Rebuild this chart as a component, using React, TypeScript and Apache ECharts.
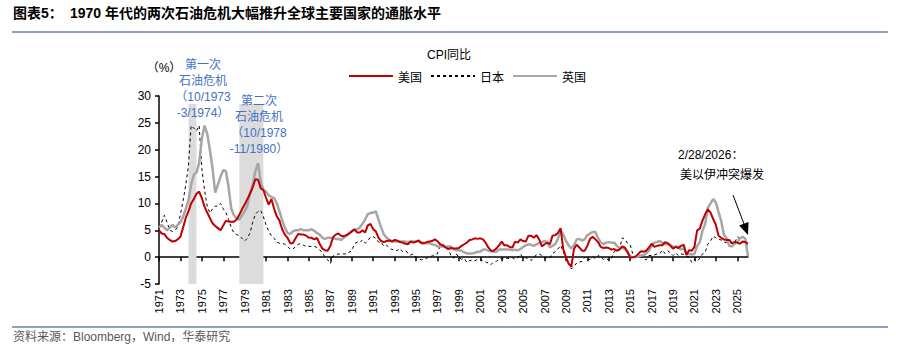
import React, { useEffect, useRef } from "react";
import * as echarts from "echarts";

// Quarterly categories 1971Q1 .. 2026Q1
const START_YEAR = 1971;
const END_YEAR = 2025;
const categories: string[] = [];
for (let y = START_YEAR; y <= END_YEAR; y++) {
  for (let q = 1; q <= 4; q++) categories.push(`${y}Q${q}`);
}
categories.push("2026Q1");

// CPI YoY (%), quarterly
const usCPI = [
  5.0, 4.4, 4.3, 3.6, // 1971
  3.2, 2.9, 3.0, 3.3, // 1972
  3.8, 5.5, 7.3, 8.5, // 1973
  10.0, 10.8, 11.8, 12.2, // 1974
  11.0, 9.4, 8.3, 7.3, // 1975
  6.3, 5.8, 5.4, 5.0, // 1976
  5.9, 6.8, 6.6, 6.6, // 1977
  6.6, 7.0, 7.9, 8.9, // 1978
  9.8, 10.8, 11.8, 13.0, // 1979
  14.5, 14.4, 12.8, 12.5, // 1980
  11.0, 9.8, 10.8, 9.0, // 1981
  7.6, 6.8, 5.2, 4.2, // 1982
  3.6, 2.6, 2.6, 3.5, // 1983
  4.3, 4.2, 4.2, 4.0, // 1984
  3.6, 3.6, 3.3, 3.6, // 1985
  2.5, 1.6, 1.3, 1.2, // 1986
  2.1, 3.7, 4.2, 4.4, // 1987
  4.0, 3.9, 4.1, 4.4, // 1988
  4.8, 5.2, 4.6, 4.6, // 1989
  5.0, 4.6, 5.9, 6.2, // 1990
  5.2, 4.8, 3.6, 3.0, // 1991
  2.8, 3.0, 3.1, 2.9, // 1992
  3.2, 3.1, 2.8, 2.7, // 1993
  2.5, 2.4, 2.9, 2.7, // 1994
  2.9, 3.1, 2.6, 2.6, // 1995
  2.8, 2.9, 3.0, 3.3, // 1996
  3.0, 2.4, 2.2, 1.8, // 1997
  1.5, 1.7, 1.6, 1.6, // 1998
  1.7, 2.1, 2.4, 2.7, // 1999
  3.2, 3.3, 3.5, 3.4, // 2000
  3.5, 3.3, 2.7, 1.8, // 2001
  1.2, 1.2, 1.6, 2.2, // 2002
  2.9, 2.2, 2.2, 1.9, // 2003
  1.8, 2.9, 2.7, 3.3, // 2004
  3.0, 2.9, 4.0, 4.0, // 2005
  3.6, 4.1, 3.3, 2.0, // 2006
  2.4, 2.7, 2.4, 4.0, // 2007
  4.1, 4.5, 5.4, 1.5, // 2008
  0.0, -1.2, -1.8, 1.5, // 2009
  2.3, 1.8, 1.2, 1.2, // 2010
  2.1, 3.4, 3.8, 3.3, // 2011
  2.8, 1.9, 1.7, 1.8, // 2012
  1.7, 1.4, 1.5, 1.2, // 2013
  1.4, 2.0, 1.8, 1.0, // 2014
  -0.1, 0.0, 0.1, 0.6, // 2015
  1.1, 1.0, 1.2, 1.8, // 2016
  2.5, 1.9, 2.1, 2.2, // 2017
  2.2, 2.8, 2.6, 2.1, // 2018
  1.6, 1.9, 1.7, 2.1, // 2019
  2.3, 0.4, 1.3, 1.2, // 2020
  1.9, 5.0, 5.3, 6.8, // 2021
  8.0, 8.9, 8.3, 7.1, // 2022
  6.0, 4.0, 3.6, 3.3, // 2023
  3.2, 3.2, 2.6, 2.8, // 2024
  2.7, 2.5, 2.9, 2.8, // 2025
  2.5, // 2026
];

const jpCPI = [
  5.5, 6.5, 7.8, 6.5, // 1971
  5.0, 4.8, 5.0, 5.6, // 1972
  8.0, 10.5, 13.5, 17.0, // 1973
  24.5, 24.0, 23.5, 24.5, // 1974
  16.5, 12.5, 9.5, 8.2, // 1975
  9.0, 9.5, 9.5, 10.0, // 1976
  9.0, 8.3, 7.0, 5.5, // 1977
  4.5, 4.2, 4.0, 3.5, // 1978
  3.0, 3.5, 4.5, 6.5, // 1979
  8.0, 8.5, 8.7, 7.5, // 1980
  6.0, 4.8, 4.0, 3.5, // 1981
  2.8, 2.6, 2.6, 2.4, // 1982
  2.0, 1.5, 1.5, 2.0, // 1983
  2.4, 2.5, 2.2, 2.0, // 1984
  2.0, 2.0, 2.0, 1.8, // 1985
  1.4, 0.8, 0.0, -0.5, // 1986
  -1.2, 0.2, 0.4, 0.6, // 1987
  0.6, 0.6, 0.6, 0.9, // 1988
  1.2, 2.5, 2.8, 2.7, // 1989
  3.2, 2.6, 3.0, 3.8, // 1990
  3.8, 3.5, 2.8, 2.8, // 1991
  2.0, 2.2, 1.8, 1.4, // 1992
  1.4, 1.2, 1.6, 1.0, // 1993
  1.2, 0.8, 0.4, 0.6, // 1994
  0.0, -0.3, -0.5, -0.4, // 1995
  -0.2, 0.1, 0.2, 0.5, // 1996
  0.6, 2.2, 2.3, 2.1, // 1997
  1.8, 0.3, -0.2, 0.6, // 1998
  0.0, -0.4, -0.2, -1.0, // 1999
  -0.6, -0.7, -0.7, -0.4, // 2000
  -0.4, -0.7, -0.9, -1.1, // 2001
  -1.4, -0.9, -0.8, -0.4, // 2002
  -0.2, -0.4, -0.2, -0.3, // 2003
  -0.1, -0.4, -0.1, 0.6, // 2004
  -0.2, -0.1, -0.3, -0.6, // 2005
  -0.2, 0.5, 0.6, 0.3, // 2006
  -0.1, -0.1, -0.2, 0.7, // 2007
  1.0, 1.5, 2.2, 1.0, // 2008
  -0.1, -1.1, -2.2, -1.7, // 2009
  -1.1, -0.9, -0.8, 0.0, // 2010
  -0.5, -0.4, 0.1, -0.3, // 2011
  0.3, 0.1, -0.4, -0.2, // 2012
  -0.6, -0.3, 1.0, 1.4, // 2013
  1.5, 3.6, 3.3, 2.6, // 2014
  2.3, 0.5, 0.1, 0.3, // 2015
  0.1, -0.4, -0.5, 0.3, // 2016
  0.3, 0.4, 0.6, 0.6, // 2017
  1.3, 0.7, 1.2, 0.8, // 2018
  0.3, 0.8, 0.3, 0.6, // 2019
  0.5, 0.1, 0.0, -1.0, // 2020
  -0.4, -0.8, -0.2, 0.6, // 2021
  0.9, 2.4, 3.0, 3.9, // 2022
  3.6, 3.3, 3.2, 2.8, // 2023
  2.7, 2.8, 2.5, 2.6, // 2024
  3.8, 3.4, 2.8, 2.9, // 2025
  1.8, // 2026
];

const ukCPI = [
  5.5, 6.0, 5.5, 5.0, // 1971
  5.5, 6.0, 5.5, 6.0, // 1972
  6.5, 7.5, 9.0, 10.5, // 1973
  13.5, 15.3, 15.8, 17.5, // 1974
  22.0, 24.5, 23.0, 20.0, // 1975
  16.5, 12.0, 13.5, 15.0, // 1976
  16.2, 16.0, 13.0, 9.0, // 1977
  7.8, 7.2, 7.0, 7.8, // 1978
  8.5, 9.5, 12.0, 13.5, // 1979
  16.0, 17.5, 14.0, 12.5, // 1980
  12.2, 11.5, 11.2, 11.0, // 1981
  10.0, 8.5, 6.9, 5.5, // 1982
  4.5, 4.3, 4.8, 5.0, // 1983
  5.0, 5.2, 5.0, 5.0, // 1984
  5.0, 5.2, 4.9, 4.5, // 1985
  4.2, 3.6, 3.4, 3.6, // 1986
  3.6, 3.5, 3.4, 3.4, // 1987
  3.2, 3.6, 4.0, 4.4, // 1988
  4.8, 5.0, 5.2, 5.5, // 1989
  6.2, 7.0, 8.0, 8.2, // 1990
  8.3, 8.5, 7.0, 5.5, // 1991
  4.2, 3.6, 3.2, 3.0, // 1992
  2.9, 2.9, 2.9, 2.9, // 1993
  2.9, 2.8, 2.9, 2.9, // 1994
  2.9, 2.9, 2.8, 2.6, // 1995
  2.6, 2.6, 2.4, 2.3, // 1996
  2.0, 2.0, 2.0, 2.0, // 1997
  2.0, 2.0, 1.5, 1.3, // 1998
  1.3, 1.2, 0.9, 0.7, // 1999
  0.7, 0.7, 0.8, 1.0, // 2000
  1.0, 1.4, 1.4, 1.2, // 2001
  1.1, 1.0, 1.0, 1.4, // 2002
  1.4, 1.4, 1.4, 1.4, // 2003
  1.3, 1.4, 1.3, 1.5, // 2004
  1.9, 2.2, 2.4, 2.3, // 2005
  2.1, 2.4, 2.6, 2.8, // 2006
  3.0, 2.8, 1.8, 2.1, // 2007
  2.4, 3.4, 5.0, 4.2, // 2008
  3.0, 2.2, 1.6, 2.2, // 2009
  3.3, 3.4, 3.1, 3.3, // 2010
  4.1, 4.4, 4.7, 4.7, // 2011
  3.5, 2.8, 2.4, 2.7, // 2012
  2.8, 2.7, 2.7, 2.1, // 2013
  1.7, 1.7, 1.5, 0.9, // 2014
  0.1, 0.0, 0.0, 0.1, // 2015
  0.3, 0.4, 0.7, 1.2, // 2016
  2.1, 2.7, 2.8, 3.0, // 2017
  2.7, 2.4, 2.5, 2.3, // 2018
  1.9, 2.0, 1.8, 1.4, // 2019
  1.7, 0.6, 0.6, 0.5, // 2020
  0.6, 2.1, 2.8, 4.9, // 2021
  6.2, 9.2, 10.0, 10.8, // 2022
  10.2, 8.4, 6.7, 4.2, // 2023
  3.5, 2.1, 2.0, 2.5, // 2024
  2.8, 3.5, 3.8, 3.4, // 2025
  0.2, // 2026
];

const seriesNames = ["美国", "日本", "英国"];
const yTicks = { min: -5, max: 30, interval: 5 };
const crisisPeriods = [
  ["1973Q4", "1974Q3"],
  ["1978Q3", "1980Q4"],
];
const crisisTop = 28.5;

const SANS = "'Liberation Sans', Arial, 'Noto Sans CJK SC', sans-serif";
const CJK = "'Noto Sans CJK SC', 'Liberation Sans', sans-serif";
const BLUE = "#4472C4";
const RULE = "#8EA0BC";

export default function App() {
  const ref = useRef<HTMLDivElement>(null);
  useEffect(() => {
    if (!ref.current) return;
    const chart = echarts.init(ref.current, undefined, { renderer: "svg" });
    const showIdx = (i: number) => i % 8 === 0;
    const option: any = {
      animation: false,
      backgroundColor: "#fff",
      grid: { left: 159, right: 151, top: 96, bottom: 74, containLabel: false },
      legend: {
        data: seriesNames,
        left: 343,
        top: 65,
        itemWidth: 44,
        itemHeight: 12,
        itemGap: 8,
        itemStyle: { color: "rgba(0,0,0,0)", borderColor: "rgba(0,0,0,0)", borderWidth: 0 },
        textStyle: { fontFamily: CJK, fontSize: 12, color: "#000" },
      },
      xAxis: {
        type: "category",
        data: categories,
        boundaryGap: false,
        axisLine: { lineStyle: { color: "#000", width: 1.5 } },
        axisTick: { interval: (i: number) => showIdx(i), length: 4, lineStyle: { color: "#000", width: 1.5 } },
        axisLabel: {
          interval: (i: number) => showIdx(i),
          rotate: 90,
          margin: 5,
          fontFamily: SANS,
          fontSize: 11,
          color: "#000",
          formatter: (v: string) => v.slice(0, 4),
        },
        splitLine: { show: false },
      },
      yAxis: {
        type: "value",
        min: yTicks.min,
        max: yTicks.max,
        interval: yTicks.interval,
        axisLine: { show: true, lineStyle: { color: "#000", width: 1.5 } },
        axisTick: { show: true, length: 4, lineStyle: { color: "#000", width: 1.5 } },
        axisLabel: { fontFamily: SANS, fontSize: 12, color: "#000", margin: 8 },
        splitLine: { show: false },
      },
      series: [
        {
          name: "bands",
          type: "line",
          data: [],
          z: 1,
          silent: true,
          markArea: {
            silent: true,
            itemStyle: { color: "#DCDCDC" },
            data: crisisPeriods.map(([a, b]) => [
              { xAxis: a, yAxis: yTicks.min },
              { xAxis: b, yAxis: crisisTop },
            ]),
          },
        },
        {
          name: "美国",
          type: "line",
          data: usCPI,
          symbol: "none",
          z: 4,
          lineStyle: { color: "#C00000", width: 2 },
          itemStyle: { color: "#C00000" },
        },
        {
          name: "日本",
          type: "line",
          data: jpCPI,
          symbol: "none",
          z: 3,
          lineStyle: { color: "#000", width: 1, type: [3, 3] },
          itemStyle: { color: "#000" },
        },
        {
          name: "英国",
          type: "line",
          data: ukCPI,
          symbol: "none",
          z: 3,
          lineStyle: { color: "#A6A6A6", width: 2.5 },
          itemStyle: { color: "#A6A6A6" },
        },
      ],
      graphic: [
        { type: "text", z: 100, left: 13, top: 6, style: { text: "图表5：", font: `bold 14px ${SANS}`, fill: "#000" } },
        {
          type: "text",
          z: 100,
          left: 70,
          top: 6,
          style: { text: "1970 年代的两次石油危机大幅推升全球主要国家的通胀水平", font: `bold 14px ${SANS}`, fill: "#000" },
        },
        { type: "line", z: 100, shape: { x1: 12, y1: 32, x2: 888, y2: 32 }, style: { stroke: RULE, lineWidth: 2 } },
        { type: "line", z: 100, shape: { x1: 12, y1: 327, x2: 888, y2: 327 }, style: { stroke: RULE, lineWidth: 2 } },
        {
          type: "text",
          z: 100,
          left: 13,
          top: 331,
          style: { text: "资料来源：Bloomberg，Wind，华泰研究", font: `12px ${SANS}`, fill: "#595959" },
        },
        {
          type: "text",
          z: 100,
          x: 449,
          y: 55,
          style: { text: "CPI同比", font: `12px ${SANS}`, fill: "#000", align: "center", verticalAlign: "middle" },
        },
        {
          type: "text",
          z: 100,
          x: 164,
          y: 68,
          style: { text: "（%）", font: `12px ${SANS}`, fill: "#000", align: "center", verticalAlign: "middle" },
        },
        {
          type: "text",
          z: 100,
          x: 203,
          y: 89,
          style: {
            text: "第一次\n石油危机\n（10/1973\n-3/1974）",
            font: `12px ${SANS}`,
            fill: BLUE,
            align: "center",
            verticalAlign: "middle",
            lineHeight: 15.7,
          },
        },
        {
          type: "text",
          z: 100,
          x: 259,
          y: 125,
          style: {
            text: "第二次\n石油危机\n（10/1978\n-11/1980）",
            font: `12px ${SANS}`,
            fill: BLUE,
            align: "center",
            verticalAlign: "middle",
            lineHeight: 15.7,
          },
        },
        {
          type: "text",
          z: 100,
          x: 678,
          y: 155,
          style: { text: "2/28/2026：", font: `12px ${SANS}`, fill: "#000", verticalAlign: "middle" },
        },
        {
          type: "text",
          z: 100,
          x: 680,
          y: 173,
          style: { text: "美以伊冲突爆发", font: `12px ${CJK}`, fill: "#000", verticalAlign: "middle" },
        },
        { type: "line", z: 100, shape: { x1: 733, y1: 195, x2: 744, y2: 224 }, style: { stroke: "#000", lineWidth: 1 } },
        {
          type: "polygon",
          z: 100,
          shape: { points: [[748, 235], [739.1, 225.6], [748.5, 222.0]] },
          style: { fill: "#000" },
        },
      ],
    };
    chart.setOption(option);
    return () => chart.dispose();
  }, []);
  return (
    <div
      ref={ref}
      style={{ position: "fixed", left: 0, top: 0, width: 899, height: 358, background: "#fff" }}
    />
  );
}
